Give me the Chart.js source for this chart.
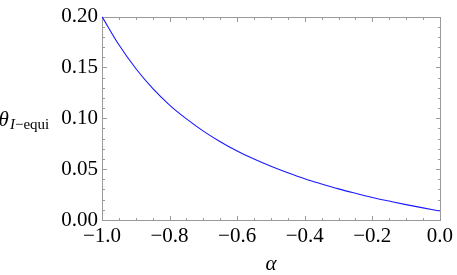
<!DOCTYPE html>
<html>
<head>
<meta charset="utf-8">
<script src="https://cdn.jsdelivr.net/npm/chart.js@4/dist/chart.umd.min.js"></script>
<style>
  html, body { margin: 0; padding: 0; background: #fff; }
  #wrap { position: relative; width: 457px; height: 275px; }
</style>
</head>
<body>
<div id="wrap"><canvas id="ChartCanvas"></canvas></div>
<script>
// alpha (x) and theta_I-equi (y)
const alphaValues = [-1.00, -0.95, -0.90, -0.85, -0.80, -0.75, -0.70, -0.65, -0.60, -0.55, -0.50,
                     -0.45, -0.40, -0.35, -0.30, -0.25, -0.20, -0.15, -0.10, -0.05, 0.00];
const thetaValues = [0.200, 0.1723, 0.149, 0.1294, 0.113, 0.0994, 0.0874, 0.077, 0.0678, 0.0599, 0.0528,
                     0.0464, 0.0405, 0.0354, 0.0306, 0.0263, 0.0222, 0.0186, 0.0151, 0.0119, 0.0089];

const xTickLabels = [-1.0, -0.8, -0.6, -0.4, -0.2, 0.0];
const yTickLabels = [0.00, 0.05, 0.10, 0.15, 0.20];
const xMinorStep = 0.05;
const yMinorStep = 0.01;

const serif = '"Liberation Serif", "DejaVu Serif", serif';
const frameColor = '#9a9a9a';

function minusSign(str) {
  return str.replace('-', '\u2212');
}

/**
 * Mathematica-like frame: gray box with inward ticks on the four sides.
 */
const framePlugin = {
  id: 'framePlugin',
  beforeDatasetsDraw: chart => {
    const ctx = chart.ctx;
    const xs = chart.scales.x;
    const ys = chart.scales.y;
    const left = Math.round(chart.chartArea.left) + 0.5;
    const right = Math.round(chart.chartArea.right) + 0.5;
    const top = Math.round(chart.chartArea.top) + 0.5;
    const bottom = Math.round(chart.chartArea.bottom) + 0.5;

    ctx.save();
    ctx.strokeStyle = frameColor;
    ctx.lineWidth = 1;
    ctx.strokeRect(left, top, right - left, bottom - top);

    ctx.beginPath();
    // x ticks, bottom and top
    for (let i = 0; i <= 20; i++) {
      const v = xs.min + i * xMinorStep;
      const major = i % 4 === 0;
      const len = major ? 4.5 : 2.5;
      const px = Math.round(xs.getPixelForValue(v)) + 0.5;
      ctx.moveTo(px, bottom);
      ctx.lineTo(px, bottom - len);
      ctx.moveTo(px, top);
      ctx.lineTo(px, top + len);
    }
    // y ticks, left and right
    for (let i = 0; i <= 20; i++) {
      const v = ys.min + i * yMinorStep;
      const major = i % 5 === 0;
      const len = major ? 4.5 : 2.5;
      const py = Math.round(ys.getPixelForValue(v)) + 0.5;
      ctx.moveTo(left, py);
      ctx.lineTo(left + len, py);
      ctx.moveTo(right, py);
      ctx.lineTo(right - len, py);
    }
    ctx.stroke();
    ctx.restore();
  }
};

/**
 * Horizontal y axis label with a subscript, theta_{I-equi}
 */
const yTitlePlugin = {
  id: 'yTitlePlugin',
  afterDraw: chart => {
    const ctx = chart.ctx;
    const mid = (chart.chartArea.top + chart.chartArea.bottom) / 2;
    ctx.save();
    ctx.fillStyle = '#000';
    ctx.textBaseline = 'alphabetic';
    ctx.textAlign = 'left';

    ctx.font = 'italic 21px ' + serif;
    ctx.fillText('\u03B8', -1.5, mid + 7.5);

    let x = 10;
    ctx.font = 'italic 15px ' + serif;
    ctx.fillText('I', x, mid + 10.5);
    x += ctx.measureText('I').width;
    ctx.font = '15px ' + serif;
    ctx.fillText('\u2212equi', x, mid + 10.5);
    ctx.restore();
  }
};

const chart = new Chart(document.getElementById('ChartCanvas'), {
  type: 'line',
  data: {
    datasets: [{
      data: alphaValues.map((a, i) => ({x: a, y: thetaValues[i]})),
      borderColor: 'rgb(25,25,255)',
      borderWidth: 1.1,
      pointRadius: 0,
      cubicInterpolationMode: 'monotone',
      fill: false
    }]
  },
  options: {
    animation: false,
    responsive: true,
    maintainAspectRatio: false,
    layout: {
      padding: {left: 0, right: 15, top: 10, bottom: 0}
    },
    plugins: {
      legend: {display: false},
      tooltip: {enabled: false}
    },
    scales: {
      x: {
        type: 'linear',
        min: -1,
        max: 0,
        afterBuildTicks: scale => {
          scale.ticks = xTickLabels.map(v => ({value: v}));
        },
        afterFit: scale => { scale.height = 55; },
        grid: {display: false, drawTicks: false},
        border: {display: false},
        ticks: {
          padding: 4,
          color: '#000',
          maxRotation: 0,
          autoSkip: false,
          font: {family: serif, size: 21},
          callback: v => minusSign(Number(v).toFixed(1))
        },
        title: {
          display: true,
          text: '\u03B1',
          color: '#000',
          padding: {top: 0, bottom: 0},
          font: {family: serif, size: 21, style: 'italic', lineHeight: 1.0}
        }
      },
      y: {
        type: 'linear',
        min: 0,
        max: 0.2,
        afterBuildTicks: scale => {
          scale.ticks = yTickLabels.map(v => ({value: v}));
        },
        afterFit: scale => { scale.width = 102; },
        grid: {display: false, drawTicks: false},
        border: {display: false},
        ticks: {
          padding: 4,
          color: '#000',
          autoSkip: false,
          font: {family: serif, size: 21},
          callback: v => Number(v).toFixed(2)
        }
      }
    }
  },
  plugins: [framePlugin, yTitlePlugin]
});
</script>
</body>
</html>
